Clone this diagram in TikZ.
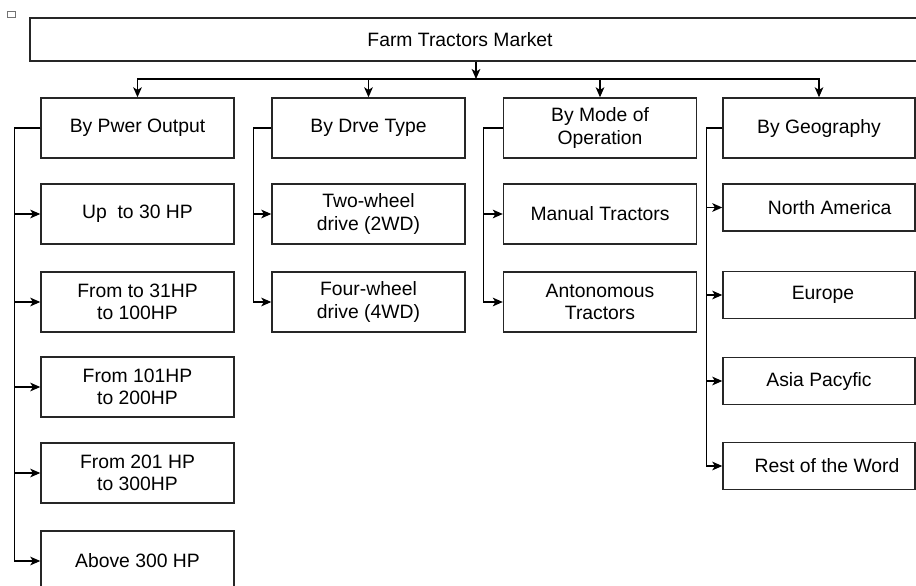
\documentclass[tikz,border=0pt]{standalone}
\usepackage{fontspec}
\setmainfont{Liberation Sans}
\usetikzlibrary{arrows.meta}

\tikzset{
  box/.style={draw=black!85,line width=1.1pt,minimum width=144.75pt,minimum height=45pt,
    inner sep=2pt,align=center,font=\fontsize{14.5}{17}\selectfont},
  geobox/.style={box,minimum width=144pt,minimum height=35.25pt},
  arr/.style={line width=1pt,-{Stealth[length=7.5pt,width=6.5pt,inset=2pt]}}
}

\begin{document}
\begin{tikzpicture}[x=0.75pt,y=-0.75pt]
 \useasboundingbox (0,0) rectangle (916,585);
 \clip (0,0) rectangle (916,585);
 \draw[black!55,line width=0.6pt](7.5,11.5) rectangle (15,17);
 % top
 \node[box,minimum width=675pt,minimum height=32.25pt] (market) at (480,39.5) {};
 \node[font=\fontsize{14.5}{17}\selectfont] (markettitle) at (460,40) {Farm Tractors Market};
 \coordinate (bus) at (476,79);
 % second level
 \node[box] (po) at (137.5,128) {By Pwer Output};
 \node[box] (dt) at (368.5,128) {By Drve Type};
 \node[box] (mo) at (600,128) {By Mode of\\Operation};
 \node[box,minimum width=144pt] (geo) at (819,128) {By Geography};
 \draw[arr] (market.south -| bus) -- (bus);
 \foreach \n in {po,dt,mo,geo}
   \draw[arr] (bus) -| (\n.north);
 % power output
 \node[box] (up30) at (137.5,214) {Up\ \ to 30 HP};
 \node[box] (hp100) at (137.5,302) {From to 31HP\\to 100HP};
 \node[box] (hp200) at (137.5,387) {From 101HP\\to 200HP};
 \node[box] (hp300) at (137.5,473) {From 201 HP\\to 300HP};
 \node[box] (above300) at (137.5,561) {Above 300 HP};
 \foreach \kid in {up30,hp100,hp200,hp300,above300}
   \draw[arr] (po.west) -- ++(-26,0) |- (\kid.west);
 % drive type
 \node[box] (twowd) at (368.5,214) {Two-wheel\\drive (2WD)};
 \node[box] (fourwd) at (368.5,302) {Four-wheel\\drive (4WD)};
 \foreach \kid in {twowd,fourwd}
   \draw[arr] (dt.west) -- ++(-18,0) |- (\kid.west);
 % mode of operation
 \node[box] (manual) at (600,214) {Manual Tractors};
 \node[box] (auto) at (600,302) {Antonomous\\Tractors};
 \foreach \kid in {manual,auto}
   \draw[arr] (mo.west) -- ++(-19,0) |- (\kid.west);
 % geography
 \node[geobox] (na) at (819,207.5) {\hspace{16pt}North America};
 \node[geobox] (eu) at (819,295) {\hspace{6pt}Europe};
 \node[geobox] (ap) at (819,381) {Asia Pacyfic};
 \node[geobox] (row) at (819,466) {\hspace{12pt}Rest of the Word};
 \foreach \kid in {na,eu,ap,row}
   \draw[arr] (geo.west) -- ++(-16,0) |- (\kid.west);
\end{tikzpicture}
\end{document}
